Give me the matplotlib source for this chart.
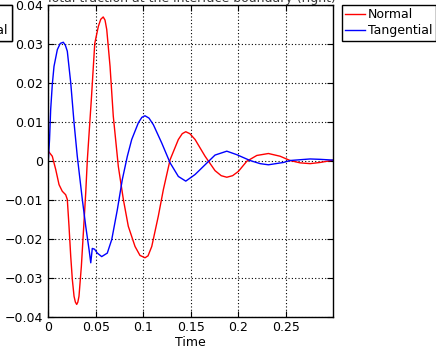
import numpy as np
import matplotlib
matplotlib.use('Agg')
import matplotlib.pyplot as plt
from matplotlib.ticker import FuncFormatter

# traction components
t_normal = [0.0, 0.0042, 0.0078, 0.0113, 0.0147, 0.0183, 0.0200, 0.0218, 0.0236,
            0.0253, 0.0271, 0.0285, 0.0299, 0.0311, 0.0323, 0.0348, 0.0369, 0.0394,
            0.0411, 0.0453, 0.0489, 0.0527, 0.0552, 0.0578, 0.0597, 0.0615, 0.0650,
            0.0684, 0.0737, 0.0790, 0.0842, 0.0913, 0.0965, 0.1018, 0.1050, 0.1089,
            0.1158, 0.1211, 0.1282, 0.1369, 0.1410, 0.1447, 0.1490, 0.1545, 0.1650,
            0.1755, 0.1820, 0.1879, 0.1940, 0.2001, 0.2089, 0.2195, 0.2317, 0.2440,
            0.2545, 0.2650, 0.2756, 0.2861, 0.3001]
normal = [0.0025, 0.0012, -0.0022, -0.0061, -0.0078, -0.0087, -0.0099, -0.0168, -0.0245,
          -0.0305, -0.0348, -0.0363, -0.0369, -0.0363, -0.0348, -0.0271, -0.0185, -0.0082,
          0.0003, 0.0158, 0.0302, 0.0346, 0.0364, 0.0370, 0.0362, 0.0338, 0.0243,
          0.0115, -0.0014, -0.0099, -0.0168, -0.0220, -0.0243, -0.0249, -0.0244, -0.0220,
          -0.0142, -0.0074, 0.0003, 0.0055, 0.0070, 0.0075, 0.0070, 0.0055, 0.0012,
          -0.0025, -0.0038, -0.0042, -0.0038, -0.0027, -0.0001, 0.0014, 0.0019, 0.0012,
          0.0001, -0.0005, -0.0007, -0.0004, 0.0002]

t_tangential = [0.0, 0.0013, 0.0025, 0.0042, 0.0060, 0.0095, 0.0126, 0.0158, 0.0180,
                0.0200, 0.0236, 0.0271, 0.0305, 0.0358, 0.0394, 0.0429, 0.0447, 0.0463,
                0.0487, 0.0516, 0.0562, 0.0621, 0.0668, 0.0727, 0.0779, 0.0832, 0.0878,
                0.0948, 0.0985, 0.1018, 0.1060, 0.1106, 0.1194, 0.1282, 0.1369, 0.1447,
                0.1545, 0.1650, 0.1755, 0.1879, 0.1984, 0.2124, 0.2229, 0.2317, 0.2475,
                0.2545, 0.2756, 0.2861, 0.3001]
tangential = [0.0, 0.0055, 0.0132, 0.0196, 0.0243, 0.0286, 0.0302, 0.0305, 0.0297,
              0.0282, 0.0201, 0.0098, 0.0012, -0.0099, -0.0168, -0.0228, -0.0262, -0.0225,
              -0.0227, -0.0237, -0.0246, -0.0237, -0.0202, -0.0125, -0.0048, 0.0012, 0.0055,
              0.0098, 0.0112, 0.0116, 0.0110, 0.0093, 0.0046, -0.0005, -0.0040, -0.0052,
              -0.0035, -0.0010, 0.0015, 0.0025, 0.0016, 0.0001, -0.0007, -0.0010, -0.0004,
              0.0001, 0.0005, 0.0004, 0.0002]

x_ticks = [0, 0.05, 0.1, 0.15, 0.2, 0.25]
y_ticks = [-0.04, -0.03, -0.02, -0.01, 0, 0.01, 0.02, 0.03, 0.04]

plt.rcParams['font.family'] = 'DejaVu Sans'
plt.rcParams['font.size'] = 9

W, H = 436, 349
fig = plt.figure(figsize=(W / 100, H / 100), dpi=100)
ax = fig.add_axes([48.3 / W, 1 - 316.5 / H, 285 / W, 311.2 / H])

ax.plot(t_normal, normal, color='#ff0000', lw=1, label='Normal')
ax.plot(t_tangential, tangential, color='#0000ff', lw=1, label='Tangential')

ax.set_xlim(0, 0.3)
ax.set_ylim(-0.04, 0.04)
ax.set_xticks(x_ticks)
ax.set_yticks(y_ticks)
fmt = FuncFormatter(lambda v, p: ('%g' % round(v, 4)).replace('-', '\u2212'))
ax.xaxis.set_major_formatter(fmt)
ax.yaxis.set_major_formatter(fmt)
ax.tick_params(direction='in', top=True, right=True, length=4, width=0.8, pad=3.5,
               labelsize=9)
ax.grid(True, color='black', linestyle=(0, (1, 2)), linewidth=0.8)
for s in ax.spines.values():
    s.set_linewidth(1.0)
ax.set_xlabel('Time', fontsize=9, labelpad=1)

# title mostly cut off by the top edge of the picture
fig.text(190.8 / W, 1 - 2.0 / H, 'Total traction at the interface boundary (right)',
         ha='center', va='baseline', fontsize=9, color='#333333')

leg_kw = dict(frameon=True, fancybox=False, framealpha=1, edgecolor='black',
              borderpad=0.3, labelspacing=0.2, handlelength=1.6, handletextpad=0.2,
              borderaxespad=0, fontsize=9)
h, l = ax.get_legend_handles_labels()
leg = fig.legend(h, l, loc='upper left', bbox_to_anchor=(341.7 / W, 1 - 4.7 / H), **leg_kw)
leg.get_frame().set_linewidth(1.0)
# second copy of the legend, pushed off the left edge
leg2 = ax.legend(h, l, loc='upper right', bbox_to_anchor=(11.7 / W, 1 - 4.7 / H),
                 bbox_transform=fig.transFigure, **leg_kw)
leg2.get_frame().set_linewidth(1.0)
fig.add_artist(leg2)

fig.savefig('out.png', dpi=100)
